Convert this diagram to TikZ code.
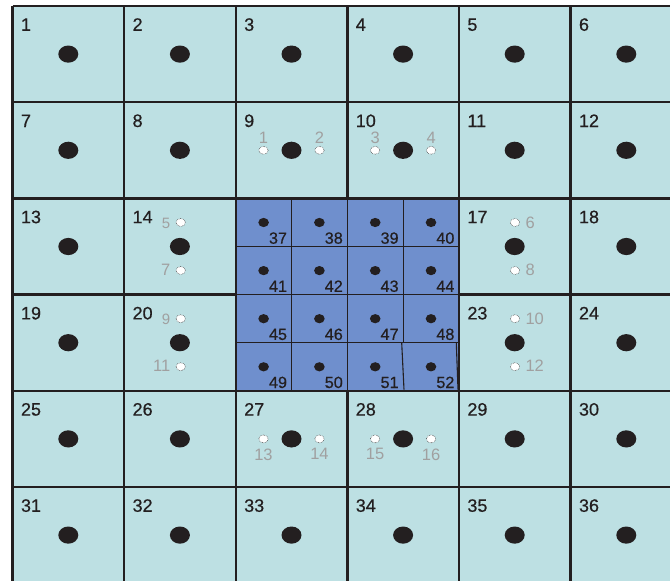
\documentclass[tikz,border=0pt]{standalone}
\usepackage{fontspec}
\setmainfont{Liberation Sans}
\newfontfamily\heavyfont{Liberation Sans}[FakeBold=0.5]
\definecolor{cellcyan}{HTML}{BDE0E3}
\definecolor{cellblue}{HTML}{6F8FCD}
\definecolor{ink}{HTML}{231F20}
\definecolor{graytext}{HTML}{A0A0A0}
\tikzset{
  gridline/.style={draw=ink, line width=2.4pt},
  thinline/.style={draw=ink, line width=1.1pt},
  bigdot/.style={fill=ink},
  smalldot/.style={fill=ink},
  whitedot/.style={fill=white, draw=ink, densely dotted, line width=0.5pt},
  biglabel/.style={inner sep=0pt, anchor=base west, text=ink, font=\heavyfont\fontsize{18}{20}\selectfont},
  bluelabel/.style={inner sep=0pt, anchor=base east, text=ink, font=\heavyfont\fontsize{16.2}{18}\selectfont},
  graylabel/.style={inner sep=0pt, text=graytext, font=\fontsize{16.5}{18}\selectfont},
  graylabelsm/.style={inner sep=0pt, text=graytext, font=\fontsize{15}{16}\selectfont}
}
\begin{document}
\begin{tikzpicture}[x=1pt,y=-1pt]
\useasboundingbox (0,0) rectangle (670,581);
\clip (0,0) rectangle (670,581);
% background
\fill[cellcyan] (12.5,6) rectangle (690,590);
% thick grid
\foreach \i in {0,...,6} {
  \draw[gridline] ({12.5+111.6*\i},6) -- ({12.5+111.6*\i},590);
  \draw[gridline] (12.5,{6+96.2*\i}) -- (690,{6+96.2*\i});
}
% blue block
\fill[cellblue] (236.9,199.6) rectangle (457.7,389.6);
\draw[thinline] (291.5,199.6) -- (291.5,389.6);
\draw[thinline] (347.3,199.6) -- (347.3,389.6);
\draw[thinline] (403.1,199.6) -- (403.1,342.7);
\draw[thinline] (401.7,342.7) -- (404.0,389.6);
\draw[thinline] (456.3,342.7) -- (458.0,389.6);
\draw[thinline] (236.9,246.5) -- (457.7,246.5);
\draw[thinline] (236.9,294.6) -- (457.7,294.6);
\draw[thinline] (236.9,342.7) -- (457.7,342.7);
% big cells: numbers and dots
\foreach \r in {0,...,5} {
  \foreach \c in {0,...,5} {
    \pgfmathtruncatemacro\n{6*\r+\c+1}
    \pgfmathtruncatemacro\inblue{and(and(\r>1,\r<4),and(\c>1,\c<4))}
    \ifnum\inblue=0
      \node[biglabel] (lab\n) at ({12.5+111.6*\c+8.3},{6+96.2*\r+24.8}) {\n};
      \fill[bigdot] ({12.5+111.6*\c+55.8},{6+96.2*\r+48.1}) ellipse [x radius=10, y radius=8.6];
    \fi
  }
}
% small blue cells
\foreach \b in {0,...,3} {
  \foreach \a in {0,...,3} {
    \pgfmathtruncatemacro\m{37+4*\b+\a}
    \fill[smalldot] ({235.7+55.8*\a+27.9},{198.4+48.1*\b+24.1}) ellipse [x radius=5.3, y radius=4.6];
    \node[bluelabel] (lab\m) at ({235.7+55.8*(\a+1)-4.3},{198.4+48.1*(\b+1)-2.8}) {\m};
  }
}
% white dots: cells 9 and 10 (labels above)
\foreach \cx/\la/\lb in {291.5/1/2, 403.1/3/4} {
  \filldraw[whitedot] ({\cx-28},150.3) ellipse [x radius=4.7, y radius=4];
  \filldraw[whitedot] ({\cx+28},150.3) ellipse [x radius=4.7, y radius=4];
  \node[graylabel, anchor=base] (g\la) at ({\cx-28},143.2) {\la};
  \node[graylabel, anchor=base] (g\lb) at ({\cx+28},143.2) {\lb};
}
% cells 27 and 28 (labels below)
\foreach \cx/\la/\lb in {291.5/13/14, 403.1/15/16} {
  \filldraw[whitedot] ({\cx-28},438.9) ellipse [x radius=4.7, y radius=4];
  \filldraw[whitedot] ({\cx+28},438.9) ellipse [x radius=4.7, y radius=4];
  \node[graylabel, anchor=north] (g\la) at ({\cx-28},448.3) {\la};
  \node[graylabel, anchor=north] (g\lb) at ({\cx+28},448.3) {\lb};
}
% cells 14 and 20 (labels left)
\foreach \cy/\la/\lb in {246.5/5/7, 342.7/9/11} {
  \filldraw[whitedot] (180.7,{\cy-24}) ellipse [x radius=4.7, y radius=4];
  \filldraw[whitedot] (180.7,{\cy+24}) ellipse [x radius=4.7, y radius=4];
  \node[graylabelsm, anchor=east] (g\la) at (170.5,{\cy-23.5}) {\la};
  \node[graylabel, anchor=east] (g\lb) at (170.5,{\cy+23.5}) {\lb};
}
% cells 17 and 23 (labels right)
\foreach \cy/\la/\lb in {246.5/6/8, 342.7/10/12} {
  \filldraw[whitedot] (515,{\cy-24}) ellipse [x radius=4.7, y radius=4];
  \filldraw[whitedot] (515,{\cy+24}) ellipse [x radius=4.7, y radius=4];
  \node[graylabel, anchor=west] (g\la) at (525.3,{\cy-23.5}) {\la};
  \node[graylabel, anchor=west] (g\lb) at (525.3,{\cy+23.5}) {\lb};
}
\end{tikzpicture}
\end{document}
